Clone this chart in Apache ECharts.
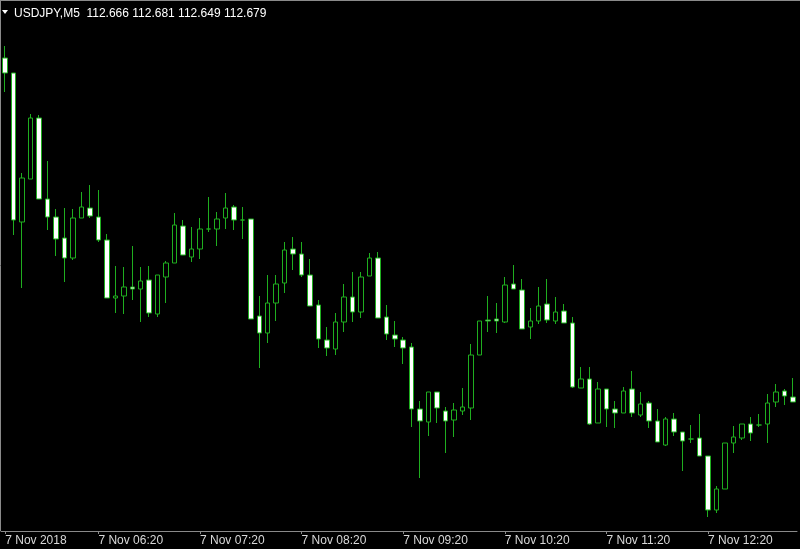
<!DOCTYPE html>
<html>
<head>
<meta charset="utf-8">
<style>
  html, body { margin: 0; padding: 0; background: #000; }
  #chart { width: 800px; height: 549px; }
</style>
<script src="https://cdn.jsdelivr.net/npm/echarts@6/dist/echarts.min.js"></script>
</head>
<body>
<div id="chart"></div>
<script>
// USDJPY M5, 7 Nov 2018 — bars start 05:25, one every 5 minutes
const symbolTitle = 'USDJPY,M5  112.666 112.681 112.649 112.679';
const startTime = '05:25';
const barCount = 94;

const opens = [
  113.014,112.999,112.850,112.893,112.954,112.873,112.855,112.834,112.814,112.854,
  112.864,112.855,112.832,112.774,112.776,112.785,112.783,112.792,112.758,112.795,
  112.809,112.846,112.815,112.823,112.843,112.843,112.854,112.865,112.852,112.853,
  112.756,112.739,112.769,112.789,112.823,112.818,112.797,112.767,112.732,112.723,
  112.750,112.775,112.760,112.796,112.814,112.755,112.737,112.732,112.725,112.663,
  112.650,112.680,112.661,112.652,112.661,112.664,112.717,112.752,112.753,112.750,
  112.788,112.782,112.745,112.751,112.768,112.751,112.761,112.749,112.684,112.693,
  112.649,112.683,112.663,112.659,112.683,112.657,112.669,112.651,112.627,112.653,
  112.640,112.633,112.634,112.616,112.562,112.583,112.629,112.634,112.648,112.647,
  112.648,112.670,112.681,112.675
];
const highs = [
  113.026,112.999,112.899,112.958,112.957,112.911,112.863,112.864,112.863,112.880,
  112.887,112.882,112.838,112.806,112.805,112.826,112.805,112.806,112.797,112.811,
  112.859,112.852,112.845,112.854,112.875,112.860,112.879,112.867,112.865,112.853,
  112.776,112.797,112.797,112.830,112.835,112.830,112.813,112.772,112.745,112.759,
  112.788,112.800,112.800,112.819,112.820,112.767,112.751,112.735,112.729,112.671,
  112.680,112.680,112.665,112.669,112.684,112.728,112.751,112.776,112.769,112.795,
  112.807,112.793,112.764,112.785,112.793,112.775,112.768,112.755,112.705,112.705,
  112.690,112.683,112.671,112.685,112.701,112.680,112.671,112.663,112.655,112.659,
  112.640,112.647,112.658,112.616,112.586,112.629,112.646,112.648,112.655,112.658,
  112.678,112.688,112.683,112.694
];
const lows = [
  112.980,112.837,112.784,112.893,112.873,112.842,112.816,112.790,112.812,112.854,
  112.854,112.830,112.774,112.759,112.758,112.772,112.750,112.755,112.755,112.769,
  112.809,112.817,112.810,112.813,112.840,112.826,112.843,112.842,112.833,112.753,
  112.704,112.729,112.751,112.779,112.802,112.795,112.766,112.724,112.716,112.717,
  112.740,112.750,112.754,112.796,112.754,112.732,112.725,112.708,112.645,112.594,
  112.636,112.649,112.619,112.635,112.657,112.652,112.717,112.740,112.739,112.749,
  112.783,112.743,112.733,112.748,112.749,112.748,112.749,112.684,112.684,112.647,
  112.649,112.645,112.644,112.659,112.655,112.655,112.644,112.630,112.626,112.636,
  112.601,112.629,112.616,112.555,112.559,112.583,112.619,112.632,112.631,112.645,
  112.629,112.665,112.667,112.670
];
const closes = [
  112.999,112.852,112.894,112.954,112.873,112.855,112.833,112.814,112.854,112.865,
  112.856,112.832,112.774,112.776,112.785,112.783,112.791,112.759,112.797,112.809,
  112.847,112.817,112.823,112.843,112.843,112.853,112.864,112.852,112.852,112.753,
  112.739,112.769,112.788,112.822,112.818,112.797,112.766,112.733,112.724,112.750,
  112.775,112.760,112.795,112.814,112.754,112.738,112.733,112.724,112.663,112.651,
  112.680,112.664,112.651,112.662,112.665,112.717,112.751,112.751,112.751,112.787,
  112.783,112.743,112.751,112.766,112.752,112.760,112.749,112.685,112.693,112.648,
  112.683,112.663,112.659,112.681,112.659,112.668,112.651,112.630,112.653,112.640,
  112.631,112.633,112.616,112.562,112.583,112.629,112.635,112.648,112.639,112.647,
  112.669,112.680,112.676,112.670
];

const tickTimes  = ['05:25', '06:20', '07:20', '08:20', '09:20', '10:20', '11:20', '12:20'];
const tickLabels = ['7 Nov 2018', '7 Nov 06:20', '7 Nov 07:20', '7 Nov 08:20', '7 Nov 09:20', '7 Nov 10:20', '7 Nov 11:20', '7 Nov 12:20'];

// category axis: bar times
const categories = [];
{
  const [h0, m0] = startTime.split(':').map(Number);
  for (let i = 0; i < barCount; i++) {
    const t = h0 * 60 + m0 + i * 5;
    const hh = String(Math.floor(t / 60)).padStart(2, '0');
    const mm = String(t % 60).padStart(2, '0');
    categories.push(hh + ':' + mm);
  }
}
const candleData = opens.map((o, i) => [o, closes[i], lows[i], highs[i]]);

const showTick = (idx, val) => tickTimes.indexOf(categories[idx]) >= 0;

const green = '#1fae1f';
const chart = echarts.init(document.getElementById('chart'), null, { renderer: 'canvas' });
chart.setOption({
  backgroundColor: '#000000',
  animation: false,
  grid: { left: 1, right: 3, top: 0, bottom: 18 },
  xAxis: {
    type: 'category',
    data: categories,
    boundaryGap: true,
    axisLine: { show: true, lineStyle: { color: '#8a8a8a', width: 1 } },
    axisTick: { show: true, alignWithLabel: true, interval: showTick, length: 3, lineStyle: { color: '#8a8a8a' } },
    axisLabel: {
      interval: showTick,
      align: 'left',
      margin: 4,
      color: '#d8d8d8',
      fontFamily: 'Liberation Sans, Arial, sans-serif',
      fontSize: 12,
      formatter: (val) => {
        const k = tickTimes.indexOf(val);
        return k >= 0 ? tickLabels[k] : '';
      }
    },
    splitLine: { show: false }
  },
  yAxis: {
    type: 'value',
    min: 112.541,
    max: 113.072,
    show: false,
    splitLine: { show: false }
  },
  series: [{
    type: 'candlestick',
    data: candleData,
    barWidth: 5,
    itemStyle: {
      color: '#000000',
      color0: '#ffffff',
      borderColor: green,
      borderColor0: green,
      borderWidth: 1
    }
  }],
  graphic: [
    { type: 'line', shape: { x1: 0.5, y1: 0, x2: 0.5, y2: 531 }, style: { stroke: '#8a8a8a', lineWidth: 1 }, silent: true },
    { type: 'line', shape: { x1: 0, y1: 0.5, x2: 800, y2: 0.5 }, style: { stroke: '#8a8a8a', lineWidth: 1 }, silent: true },
    { type: 'polygon', shape: { points: [[2, 10], [8, 10], [5, 14]] }, style: { fill: '#ffffff' }, silent: true },
    { type: 'text', x: 14, y: 14, silent: true,
      style: { text: symbolTitle, fill: '#ffffff', font: '12px "Liberation Sans", Arial, sans-serif', verticalAlign: 'middle', align: 'left' } }
  ]
});
</script>
</body>
</html>
